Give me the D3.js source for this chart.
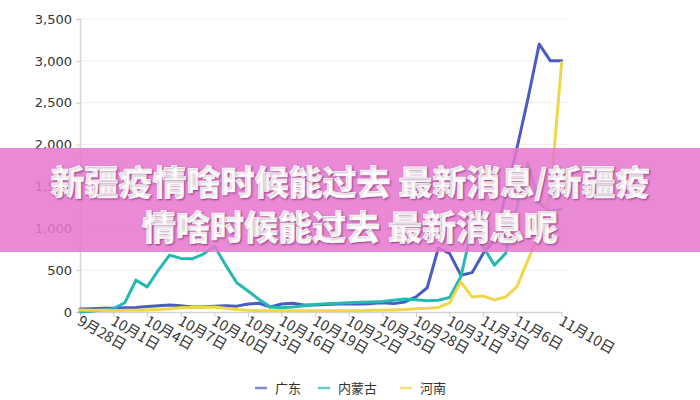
<!DOCTYPE html>
<html>
<head>
<meta charset="utf-8">
<script src="https://cdn.jsdelivr.net/npm/d3@7"></script>
<style>
  html, body { margin: 0; padding: 0; background: #fff; }
  svg { display: block; }
</style>
</head>
<body>
<svg id="chart" width="700" height="400"></svg>
<script>
// ---- data ----
const dates = [
  "2021-09-28","2021-09-29","2021-09-30","2021-10-01","2021-10-02","2021-10-03","2021-10-04",
  "2021-10-05","2021-10-06","2021-10-07","2021-10-08","2021-10-09","2021-10-10","2021-10-11",
  "2021-10-12","2021-10-13","2021-10-14","2021-10-15","2021-10-16","2021-10-17","2021-10-18",
  "2021-10-19","2021-10-20","2021-10-21","2021-10-22","2021-10-23","2021-10-24","2021-10-25",
  "2021-10-26","2021-10-27","2021-10-28","2021-10-29","2021-10-30","2021-10-31","2021-11-01",
  "2021-11-02","2021-11-03","2021-11-04","2021-11-05","2021-11-06","2021-11-07","2021-11-08",
  "2021-11-09","2021-11-10"
];
const seriesNames = ["广东", "内蒙古", "河南"];
const guangdong = [35,40,45,45,50,55,65,75,85,75,60,60,70,75,70,95,105,60,95,105,85,
  85,90,95,95,95,100,110,100,120,180,290,765,700,440,470,700,860,1400,1950,2550,3200,3000,3000];
const neimenggu = [0,10,25,40,110,380,300,500,680,640,635,690,790,560,350,250,150,60,50,60,75,
  90,100,105,110,115,120,125,140,155,145,135,140,175,420,1000,780,560,700,1250,1780,1300,1200,1230];
const henan = [25,20,20,15,20,20,25,30,40,50,55,55,60,45,30,20,15,15,15,15,15,
  15,15,15,15,15,20,20,25,30,40,45,55,110,360,180,190,145,180,300,620,950,1400,2980];
const xTickDates = ["2021-09-28","2021-10-01","2021-10-04","2021-10-07","2021-10-10","2021-10-13",
  "2021-10-16","2021-10-19","2021-10-22","2021-10-25","2021-10-28","2021-10-31","2021-11-03",
  "2021-11-06","2021-11-10"];
const yTicks = [0,500,1000,1500,2000,2500,3000,3500];
const bannerLines = ["新疆疫情啥时候能过去 最新消息/新疆疫", "情啥时候能过去 最新消息呢"];
const colors = ["#4a5cc2", "#27b8b2", "#f0d649"];

// ---- layout ----
const svg = d3.select("#chart");
const mLeft = 80, mRight = 561.6, mTop = 19, mBottom = 312;
const parse = d3.utcParse("%Y-%m-%d");
const x = d3.scaleUtc()
  .domain([parse("2021-09-28"), parse("2021-11-10")])
  .range([mLeft, mRight]);
const y = d3.scaleLinear().domain([0, 3500]).range([mBottom, mTop]);

// grid
svg.append("g").selectAll("line").data(yTicks.filter(d => d > 0)).join("line")
  .attr("x1", mLeft).attr("x2", 568)
  .attr("y1", d => y(d)).attr("y2", d => y(d))
  .attr("stroke", "#efefef").attr("stroke-width", 1);

// y axis
const yAxis = svg.append("g").attr("transform", `translate(${mLeft},0)`)
  .call(d3.axisLeft(y).tickValues(yTicks).tickFormat(d3.format(",")).tickSize(4).tickPadding(4));
yAxis.select(".domain").attr("stroke", "#d6d6d6").attr("stroke-width", 1.5);
yAxis.selectAll(".tick line").attr("stroke", "#cfcfcf");
yAxis.selectAll("text").attr("font-family", "'DejaVu Sans', sans-serif")
  .attr("font-size", 13).attr("fill", "#333");

// x axis
const fmt = d => `${d.getUTCMonth() + 1}月${d.getUTCDate()}日`;
const xAxis = svg.append("g").attr("transform", `translate(0,${mBottom})`)
  .call(d3.axisBottom(x).tickValues(xTickDates.map(parse)).tickFormat(fmt).tickSize(5).tickSizeOuter(0));
xAxis.select(".domain").attr("stroke", "#d6d6d6").attr("stroke-width", 1.5);
xAxis.selectAll(".tick line").attr("stroke", "#cfcfcf");
xAxis.selectAll("text")
  .attr("font-family", "'Noto Sans CJK SC', sans-serif")
  .attr("font-size", 14.5).attr("fill", "#333")
  .attr("text-anchor", "start")
  .attr("x", 0).attr("y", 0).attr("dy", "0")
  .attr("transform", "translate(-4,12) rotate(30)");

// lines
const allSeries = [guangdong, neimenggu, henan];
const line = d3.line()
  .x((d, i) => x(parse(dates[i])))
  .y(d => y(d));
svg.append("g").selectAll("path").data(allSeries).join("path")
  .attr("d", d => line(d))
  .attr("fill", "none")
  .attr("stroke", (d, i) => colors[i])
  .attr("stroke-width", 3)
  .attr("stroke-linejoin", "round")
  .attr("stroke-linecap", "round");

// legend
const legendX = [255, 318, 400];
const lg = svg.append("g").selectAll("g").data(seriesNames).join("g")
  .attr("transform", (d, i) => `translate(${legendX[i]},388)`);
lg.append("line").attr("x1", 0).attr("x2", 12).attr("y1", 0).attr("y2", 0)
  .attr("stroke", (d, i) => colors[i]).attr("stroke-width", 2.5).attr("opacity", 0.7);
lg.append("text").attr("x", 20).attr("y", 0).attr("dy", "0.35em")
  .attr("font-family", "'Noto Sans CJK SC', sans-serif").attr("font-size", 13)
  .attr("fill", "#333").text(d => d);

// banner overlay
svg.append("rect").attr("x", 0).attr("y", 148).attr("width", 700).attr("height", 104)
  .attr("fill", "#e677d0").attr("opacity", 0.86);
svg.append("g").selectAll("text").data(bannerLines).join("text")
  .attr("x", 350).attr("y", (d, i) => 183 + i * 45)
  .attr("dy", "0.35em")
  .attr("text-anchor", "middle")
  .attr("font-family", "'Noto Sans CJK SC', sans-serif")
  .attr("font-weight", 900)
  .attr("font-size", 34)
  .attr("fill", "#fff")
  .attr("stroke", "#fff").attr("stroke-width", 0.6)
  .style("text-shadow", "1px 1px 2px rgba(80,0,60,0.5)")
  .text(d => d);
</script>
</body>
</html>
